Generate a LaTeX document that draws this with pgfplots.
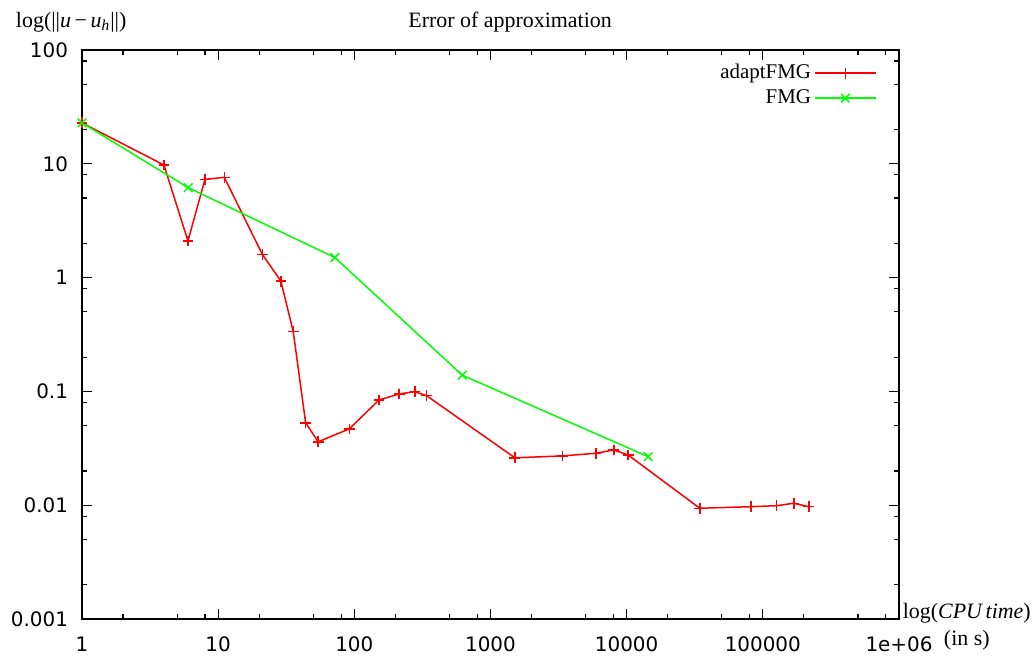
\documentclass[border=0pt]{standalone}
\usepackage{fontspec}
\setmainfont{Liberation Serif}
\newfontfamily\dvs{DejaVu Sans}
\usepackage{pgfplots}
\pgfplotsset{compat=1.18}

\begin{document}
\begin{tikzpicture}
\useasboundingbox (-41bp,-19bp) rectangle (475bp,309.5bp);
\begin{axis}[
    scale only axis,
    width=408.5bp,
    height=284.5bp,
    xmode=log, ymode=log,
    xmin=1, xmax=1e6,
    ymin=1e-3, ymax=100,
    axis line style={line width=0.75bp},
    tick align=inside,
    major tick length=5bp,
    minor tick length=2.5bp,
    tick style={black, line width=0.6bp},
    xtick={1,10,100,1000,10000,100000,1000000},
    xticklabels={1,10,100,1000,10000,100000,1e+06},
    minor xtick={2,5,8,20,50,80,200,500,800,2000,5000,8000,20000,50000,80000,200000,500000,800000},
    ytick={0.001,0.01,0.1,1,10,100},
    yticklabels={0.001,0.01,0.1,1,10,100},
    minor ytick={0.002,0.005,0.008,0.02,0.05,0.08,0.2,0.5,0.8,2,5,8,20,50,80},
    tick label style={font=\dvs\fontsize{10}{12}\selectfont},
    xticklabel style={yshift=-5.5bp},
    yticklabel style={xshift=-3.5bp},
    every axis title/.style={at={(axis description cs:0.524,1.049)}, anchor=center,
        font=\fontsize{11}{13}\selectfont},
    title={Error of approximation},
    every axis y label/.style={at={(axis description cs:-0.0894,1.049)}, anchor=west,
        font=\fontsize{11}{13}\selectfont},
    ylabel={log(||\textit{u}\,−\,\textit{u}\textsubscript{\textit{h}}||)},
    every axis x label/.style={at={(axis description cs:1.083,-0.0132)}, anchor=center,
        align=center, font=\fontsize{11}{12}\selectfont},
    xlabel={log(\textit{CPU\,time})\\[1.5bp](in s)},
    legend plot pos=right,
    legend cell align=right,
    legend style={at={(axis description cs:0.973,0.981)}, anchor=north east,
        draw=none, fill=none, inner sep=0pt, row sep=0.5bp,
        font=\fontsize{10.5}{12}\selectfont,
        nodes={text height=7bp, text depth=2bp, inner sep=1.5bp}},
    legend image code/.code={\draw[mark repeat=2, mark phase=2, #1]
        plot coordinates {(0bp,0bp) (15.25bp,0bp) (30.5bp,0bp)};},
]

\addplot[red, line width=0.75bp, mark=+, mark size=2.7bp] coordinates {
    (1, 22.9)
    (4.0, 9.75)
    (6.0, 2.1)
    (8.0, 7.3)
    (11.1, 7.6)
    (21.1, 1.6)
    (28.9, 0.93)
    (35.6, 0.335)
    (43.9, 0.053)
    (54.3, 0.0361)
    (91.8, 0.0468)
    (151.6, 0.084)
    (213.6, 0.095)
    (278.6, 0.0994)
    (339.6, 0.0917)
    (1510, 0.0261)
    (3381, 0.0271)
    (5940, 0.0286)
    (8054, 0.0306)
    (10260, 0.0276)
    (34450, 0.0094)
    (81660, 0.0097)
    (126200, 0.0099)
    (169000, 0.0104)
    (217800, 0.0097)
};

\addplot[green, line width=0.75bp, mark=x, mark size=3bp] coordinates {
    (1, 22.9)
    (6.03, 6.17)
    (72.0, 1.50)
    (620, 0.139)
    (14390, 0.0267)
};

\legend{adaptFMG, FMG}
\end{axis}
\end{tikzpicture}
\end{document}
